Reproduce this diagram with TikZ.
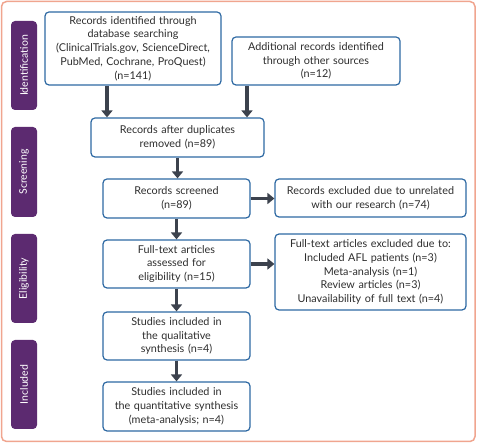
\documentclass[tikz,border=0pt]{standalone}
\usepackage{fontspec}
\setmainfont{Lato}
\usepackage{xcolor}
\usetikzlibrary{calc}
\usetikzlibrary{arrows.meta}
\definecolor{frameorange}{HTML}{F0A58F}
\definecolor{phasepurple}{HTML}{5C2A70}
\definecolor{boxblue}{HTML}{2E69A3}
\definecolor{arrowgray}{HTML}{3C424D}
\definecolor{textgray}{HTML}{2E2E2E}

\begin{document}
\begin{tikzpicture}[x=1pt, y=-1pt,
    box/.style={draw=boxblue, line width=1.2pt, rounded corners=4pt, fill=white,
        align=center, inner xsep=2pt, inner ysep=0pt, text=textgray,
        font=\fontsize{10.8}{13.8}\selectfont},
    phase/.style={fill=phasepurple, rounded corners=4pt, text=white, rotate=90,
        inner sep=0pt, font=\fontsize{10.5}{12}\selectfont},
    arr/.style={draw=arrowgray, line width=3.5pt, -{Triangle[length=7pt,width=11pt]}}]
                \useasboundingbox (0,0) rectangle (477,443);
                \draw[frameorange, line width=1.5pt, rounded corners=5pt] (1.5,1.5) rectangle (475,441.5);
                % phases
                \node[phase, minimum width=89pt, minimum height=26pt] (pid) at (24,65.5) {Identification};
                \node[phase, minimum width=90pt, minimum height=26pt] (pscr) at (24,172) {Screening};
                \node[phase, minimum width=89pt, minimum height=26pt] (pel) at (24,278.5) {Eligibility};
                \node[phase, minimum width=89pt, minimum height=26pt] (pinc) at (24,384.5) {Included};
                % boxes
                \node[box, text width=172pt, minimum height=73pt] (ident) at (133,48.5)
                    {Records identified through\\ database searching\\ (ClinicalTrials.gov, ScienceDirect,\\ PubMed, Cochrane, ProQuest)\\ (n=141)};
                \node[box, text width=164pt, minimum height=48pt] (other) at (316,61)
                    {Additional records identified\\ through other sources\\ (n=12)};
                \node[box, text width=169pt, minimum height=39pt] (dupl) at (177.5,137.5)
                    {Records after duplicates\\ removed (n=89)};
                \node[box, text width=143pt, minimum height=39pt] (screen) at (176.5,198.5)
                    {Records screened\\ (n=89)};
                \node[box, text width=187pt, minimum height=38pt] (excl) at (370.5,198)
                    {Records excluded due to unrelated\\ with our research (n=74)};
                \node[box, text width=143pt, minimum height=48pt] (full) at (176.5,264)
                    {Full-text articles\\ assessed for\\ eligibility (n=15)};
                \node[box, text width=187pt, minimum height=76pt] (fexcl) at (370.5,272)
                    {Full-text articles excluded due to:\\ Included AFL patients (n=3)\\ Meta-analysis (n=1)\\ Review articles (n=3)\\ Unavailability of full text (n=4)};
                \node[box, text width=143pt, minimum height=48pt] (qual) at (176.5,336)
                    {Studies included in\\ the qualitative\\ synthesis (n=4)};
                \node[box, text width=143pt, minimum height=49pt] (quant) at (176.5,406.5)
                    {Studies included in\\ the quantitative synthesis\\ (meta-analysis; n=4)};
                % arrows
                \draw[arr] ([xshift=-26pt]ident.south) -- ([xshift=-26pt]ident.south |- dupl.north);
                \draw[arr] ([xshift=-69pt]other.south) -- ([xshift=-69pt]other.south |- dupl.north);
                \draw[arr] (dupl.south) -- (dupl.south |- screen.north);
                \draw[arr] (screen.south) -- (full.north);
                \draw[arr] (full.south) -- (qual.north);
                \draw[arr] (qual.south) -- (quant.north);
                \draw[arr] (screen.east) -- (screen.east -| excl.west);
                \draw[arr] (full.east) -- (full.east -| fexcl.west);
            \end{tikzpicture}
\end{document}
